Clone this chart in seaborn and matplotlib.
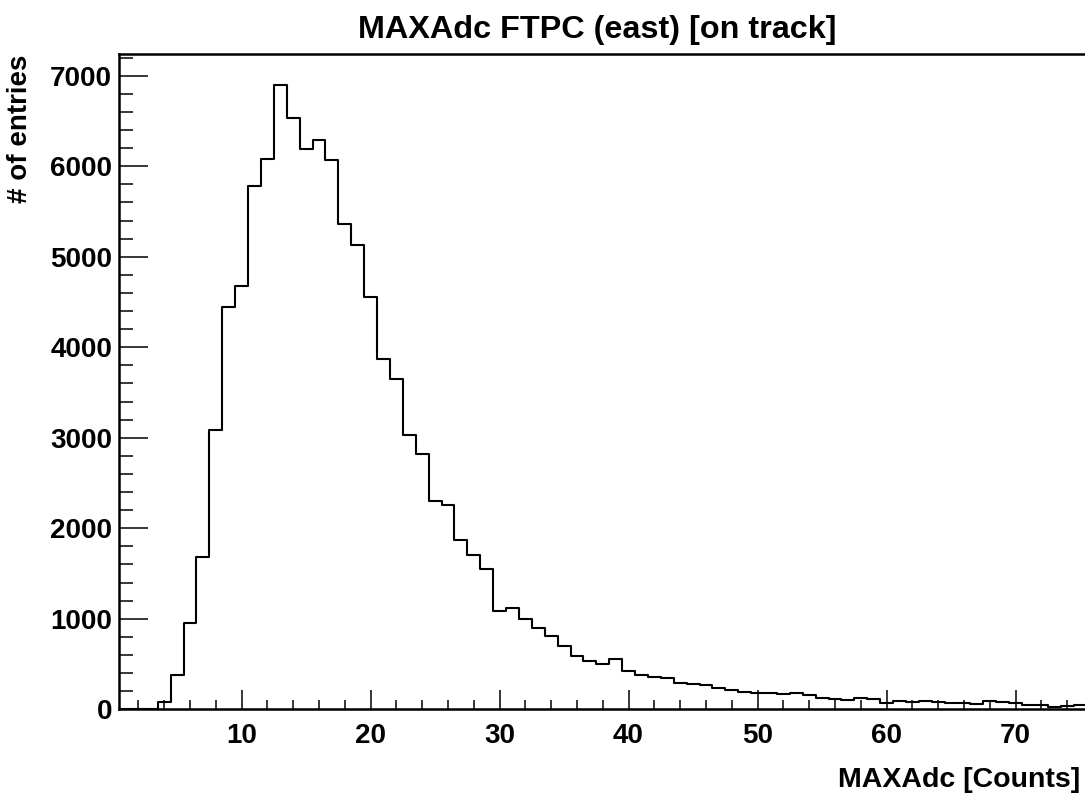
import numpy as np
import pandas as pd
import matplotlib
matplotlib.use("Agg")
import matplotlib.pyplot as plt
from matplotlib.ticker import MultipleLocator
import seaborn as sns

# ---- data (bin centres at integer MAXAdc values, width 1) ----
adc_bins = list(range(1, 76))
entries = [0, 0, 0, 85, 375, 956, 1681, 3091, 4445, 4677,
           5777, 6083, 6900, 6536, 6193, 6285, 6068, 5358, 5126, 4552,
           3871, 3650, 3032, 2819, 2296, 2252, 1866, 1703, 1549, 1091,
           1120, 1001, 902, 808, 704, 590, 530, 495, 554, 427,
           379, 362, 348, 292, 278, 266, 239, 212, 193, 175,
           182, 166, 175, 155, 128, 117, 106, 121, 112, 75,
           89, 79, 87, 77, 72, 72, 54, 90, 78, 70,
           44, 49, 29, 38, 43]
x_major_ticks = [10, 20, 30, 40, 50, 60, 70]
y_major_ticks = [0, 1000, 2000, 3000, 4000, 5000, 6000, 7000]

title = "MAXAdc FTPC (east) [on track]"
xlabel = "MAXAdc [Counts]"
ylabel = "# of entries"

df = pd.DataFrame({"adc": adc_bins, "n": entries})
edges = [b - 0.5 for b in adc_bins] + [adc_bins[-1] + 0.5]

sns.set_style("ticks")
plt.rcParams["font.family"] = ["Liberation Sans", "DejaVu Sans"]
plt.rcParams["font.weight"] = "bold"
for key in ["text.color", "axes.labelcolor", "xtick.color", "ytick.color", "axes.edgecolor"]:
    plt.rcParams[key] = "black"

W, H = 1085, 798
fig = plt.figure(figsize=(W / 100, H / 100), dpi=100)
left, right, top, bottom = 119, 1086.5, 54, 709.3
ax = fig.add_axes([left / W, (H - bottom) / H, (right - left) / W, (bottom - top) / H])

sns.histplot(data=df, x="adc", weights="n", bins=edges, element="step",
             fill=False, color="black", linewidth=1.5, ax=ax)

ax.set_xlim(0.5, 75.5)
ax.set_ylim(0, 7240)
ax.set_xticks(x_major_ticks)
ax.set_yticks(y_major_ticks)
ax.xaxis.set_minor_locator(MultipleLocator(2))
ax.yaxis.set_minor_locator(MultipleLocator(200))
ax.set_xticklabels([str(v) for v in x_major_ticks], fontsize=20, fontweight="bold", color="black")
ax.set_yticklabels([str(v) for v in y_major_ticks], fontsize=20, fontweight="bold", color="black")

ax.tick_params(axis="x", which="major", direction="in", length=13.5, width=1.1, pad=10, top=False, colors="black")
ax.tick_params(axis="x", which="minor", direction="in", length=6.5, width=1.1, top=False, colors="black")
ax.tick_params(axis="y", which="major", direction="in", length=21, width=1.1, pad=5, right=False, colors="black")
ax.tick_params(axis="y", which="minor", direction="in", length=10, width=1.1, right=False, colors="black")

for s in ax.spines.values():
    s.set_linewidth(1.8)
    s.set_color("black")
    s.set_visible(True)

ax.set_xlabel("")
ax.set_ylabel("")

fig.text(597 / W, 1 - 37.7 / H, title, ha="center", va="baseline",
         fontsize=23.3, fontweight="bold", color="black")
fig.text(1080 / W, 1 - 786.7 / H, xlabel, ha="right", va="baseline",
         fontsize=20.5, fontweight="bold", color="black")
fig.text(20 / W, 1 - 55 / H, ylabel, ha="center", va="top", rotation=90,
         fontsize=20, fontweight="bold", color="black")

fig.savefig("out.png", dpi=100, facecolor="white")
